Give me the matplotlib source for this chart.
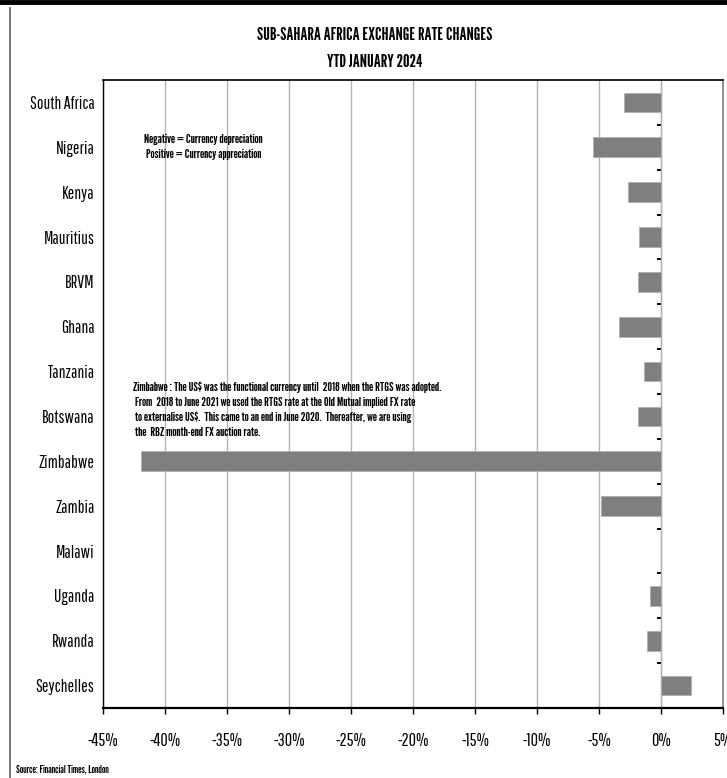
import matplotlib.pyplot as plt
from matplotlib.lines import Line2D
from matplotlib.ticker import FuncFormatter
import numpy as np

plt.rcParams['font.family'] = ['Pathway Gothic One', 'Roboto Condensed',
                               'DejaVu Sans']
HEAVY = ['League Gothic', 'Roboto Condensed', 'DejaVu Sans']

countries = ['South Africa', 'Nigeria', 'Kenya', 'Mauritius', 'BRVM', 'Ghana',
             'Tanzania', 'Botswana', 'Zimbabwe', 'Zambia', 'Malawi', 'Uganda',
             'Rwanda', 'Seychelles']
changes = [-3.0, -5.5, -2.7, -1.8, -1.85, -3.4, -1.35, -1.85, -41.9, -4.8,
           0.0, -0.85, -1.1, 2.45]
x_ticks = list(range(-45, 6, 5))

fig = plt.figure(figsize=(7.27, 7.78), dpi=100)
ax = fig.add_axes([103 / 727, 1 - 708 / 778, 620 / 727, 628 / 778])

y = np.arange(len(countries))
ax.barh(y, changes, height=0.44, color='#7f7f7f', edgecolor='#b0b0b0',
        linewidth=0.6, zorder=3)

ax.set_xlim(-45, 5)
ax.set_ylim(len(countries) - 0.5, -0.5)
ax.set_xticks(x_ticks)
ax.xaxis.set_major_formatter(FuncFormatter(lambda v, p: f'{v:.0f}%'))
ax.tick_params(axis='x', direction='out', length=4, width=1, pad=14,
               labelsize=13)
ax.set_yticks(y)
ax.set_yticklabels(countries)
ax.tick_params(axis='y', length=0, pad=6, labelsize=12.5)
ax.grid(axis='x', color='#b4b4b4', linewidth=1, zorder=0)

for side in ['left', 'top', 'bottom']:
    ax.spines[side].set_color('black')
ax.spines['bottom'].set_linewidth(1.6)
ax.spines['left'].set_linewidth(1.0)
ax.spines['top'].set_linewidth(1.2)
ax.spines['right'].set_color('#808080')
ax.spines['right'].set_linewidth(1.2)

# zero line with small ticks between categories
zero = ax.secondary_yaxis(45 / 50)
zero.set_yticks(np.arange(len(countries) - 1) + 0.5)
zero.set_yticklabels([])
zero.tick_params(direction='in', length=3, width=1.4, color='black')
zero.spines['left'].set_color('#808080')
zero.spines['left'].set_linewidth(1.2)

fig.text(0.516, 1 - 35 / 778, 'SUB-SAHARA AFRICA EXCHANGE RATE CHANGES',
         ha='center', va='center', fontsize=13, family=HEAVY)
fig.text(0.516, 1 - 62 / 778, 'YTD JANUARY 2024',
         ha='center', va='center', fontsize=13, family=HEAVY)

ax.text(-36.9, 1.0, 'Negative = Currency depreciation\nPositive = Currency appreciation',
        ha='center', va='center', fontsize=9.5, family=HEAVY,
        linespacing=1.45, zorder=4)

note = ('Zimbabwe : The US$ was the functional currency until  2018 when the RTGS was adopted.\n'
        ' From  2018 to June 2021 we used the RTGS rate at the Old Mutual implied FX rate\n'
        ' to externalise US$.  This came to an end in June 2020.  Thereafter, we are using\n'
        ' the  RBZ month-end FX auction rate.')
ax.text(-42.6, 6.85, note, ha='left', va='center', fontsize=9.5,
        family=HEAVY, linespacing=1.4, zorder=4)

fig.text(16 / 727, 1 - 770 / 778, 'Source: Financial Times, London',
         ha='left', va='center', fontsize=8, family=HEAVY)

# outer frame
fig.add_artist(Line2D([0, 1], [1 - 2 / 778, 1 - 2 / 778], color='black',
                      linewidth=3.5, transform=fig.transFigure))
fig.add_artist(Line2D([10 / 727, 10 / 727], [0, 1 - 8 / 778], color='#606060',
                      linewidth=1.2, transform=fig.transFigure))

fig.savefig('out.png', dpi=100)
